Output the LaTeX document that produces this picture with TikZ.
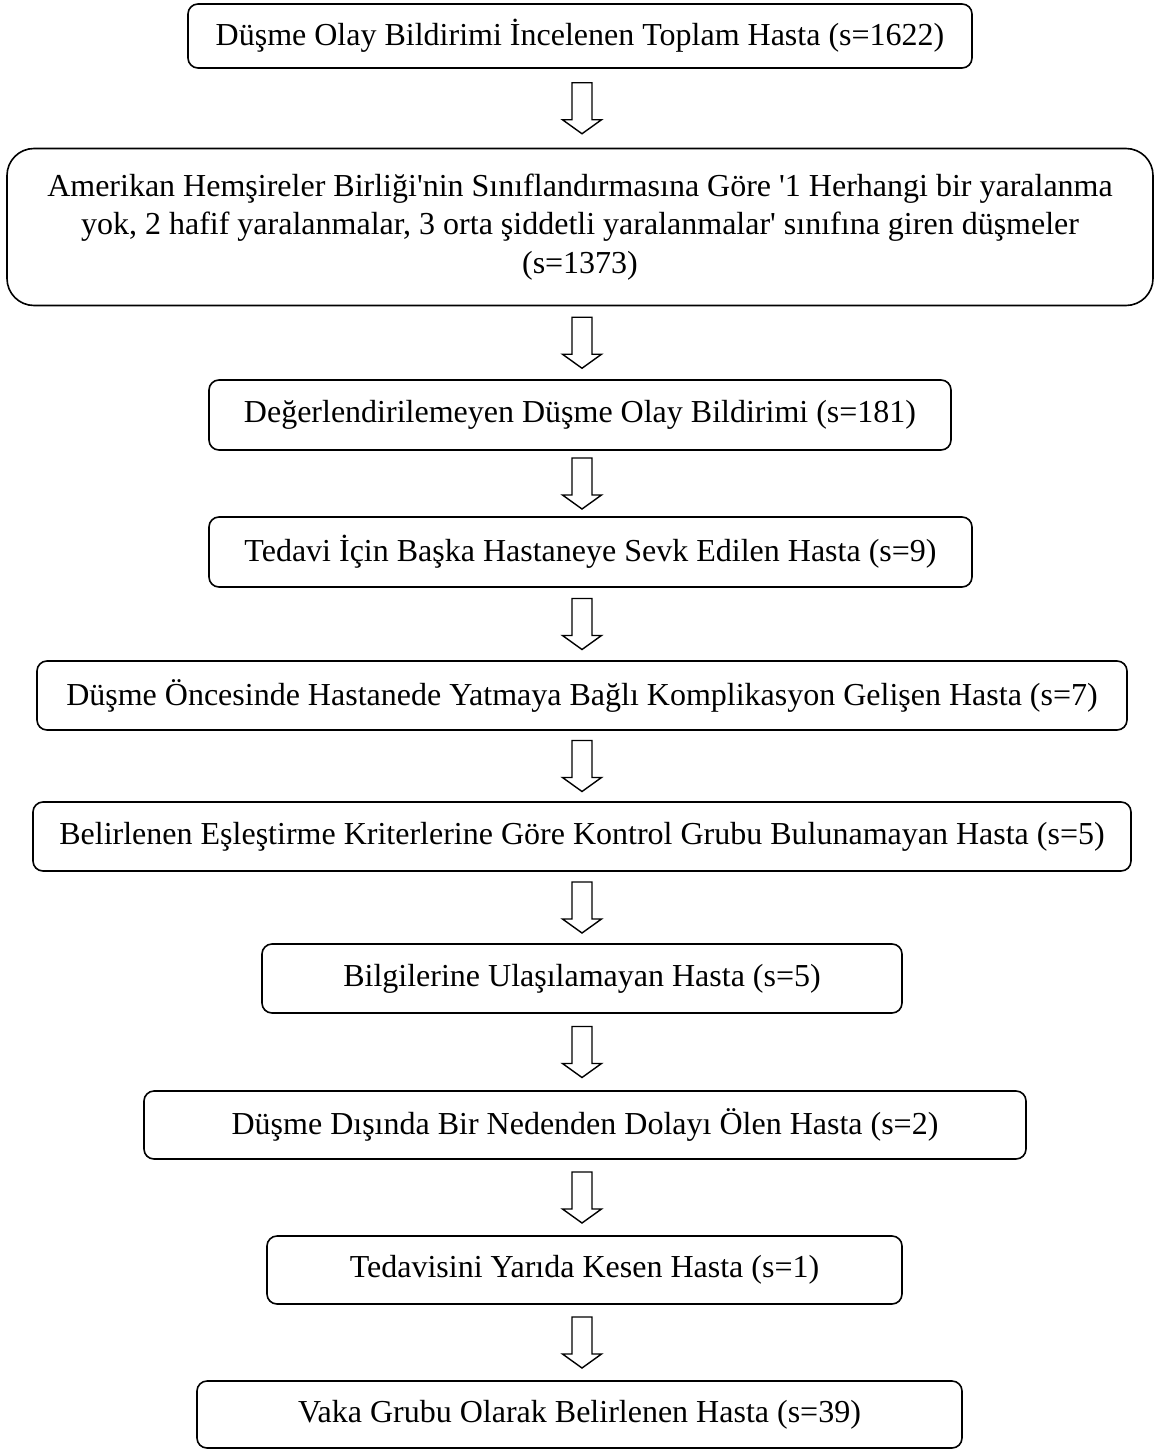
\documentclass[tikz,border=0pt]{standalone}
\usepackage{fontspec}
\setmainfont{Liberation Serif}
\usetikzlibrary{calc}
\tikzset{
  flowbox/.style={draw=black, line width=1.6pt, rounded corners=10pt, inner sep=0pt,
    align=center, font=\fontsize{32}{38.4}\selectfont},
  bigbox/.style={flowbox, rounded corners=27pt},
  blockarrow/.style={draw=black, line width=1.4pt, fill=white, line join=miter}
}
% block arrow from box #1 to box #2, centred in the gap
\newcommand\blockarr[2]{%
  \draw[blockarrow] let \p1=(#1.south), \p2=(#2.north),
    \n1={(\y1+\y2)/2 + 25.5pt}, \n2={(\y1+\y2)/2 - 25.5pt} in
    (582pt-10pt,\n1) -- (582pt+10pt,\n1) -- (582pt+10pt,\n2+14pt) -- (582pt+19.5pt,\n2+14pt)
    -- (582pt,\n2) -- (582pt-19.5pt,\n2+14pt) -- (582pt-10pt,\n2+14pt) -- cycle;}
\begin{document}
\begin{tikzpicture}[x=1pt,y=-1pt]
\useasboundingbox[fill=white] (0,0) rectangle (1155,1450);
\node[flowbox, minimum width=784pt, minimum height=64pt] (b1) at (580,36)
  {Düşme Olay Bildirimi İncelenen Toplam Hasta (s=1622)};
\node[bigbox, minimum width=1146pt, minimum height=157pt] (b2) at (580,227)
  {Amerikan Hemşireler Birliği\textquotesingle nin Sınıflandırmasına Göre \textquotesingle 1 Herhangi bir yaralanma\\
   yok, 2 hafif yaralanmalar, 3 orta şiddetli yaralanmalar\textquotesingle{} sınıfına giren düşmeler\\
   (s=1373)};
\node[flowbox, minimum width=742pt, minimum height=70pt] (b3) at (580,415)
  {Değerlendirilemeyen Düşme Olay Bildirimi (s=181)};
\node[flowbox, minimum width=763pt, minimum height=70pt] (b4) at (590.5,552)
  {Tedavi İçin Başka Hastaneye Sevk Edilen Hasta (s=9)};
\node[flowbox, minimum width=1090pt, minimum height=69pt] (b5) at (582,695.5)
  {Düşme Öncesinde Hastanede Yatmaya Bağlı Komplikasyon Gelişen Hasta (s=7)};
\node[flowbox, minimum width=1098pt, minimum height=69pt] (b6) at (582,836.5)
  {Belirlenen Eşleştirme Kriterlerine Göre Kontrol Grubu Bulunamayan Hasta (s=5)};
\node[flowbox, minimum width=640pt, minimum height=69pt] (b7) at (582,978.5)
  {Bilgilerine Ulaşılamayan Hasta (s=5)};
\node[flowbox, minimum width=882pt, minimum height=68pt] (b8) at (585,1125)
  {Düşme Dışında Bir Nedenden Dolayı Ölen Hasta (s=2)};
\node[flowbox, minimum width=635pt, minimum height=68pt] (b9) at (584.5,1270)
  {Tedavisini Yarıda Kesen Hasta (s=1)};
\node[flowbox, minimum width=765pt, minimum height=67pt] (b10) at (579.5,1414.5)
  {Vaka Grubu Olarak Belirlenen Hasta (s=39)};
\blockarr{b1}{b2}
\blockarr{b2}{b3}
\blockarr{b3}{b4}
\blockarr{b4}{b5}
\blockarr{b5}{b6}
\blockarr{b6}{b7}
\blockarr{b7}{b8}
\blockarr{b8}{b9}
\blockarr{b9}{b10}
\end{tikzpicture}
\end{document}
